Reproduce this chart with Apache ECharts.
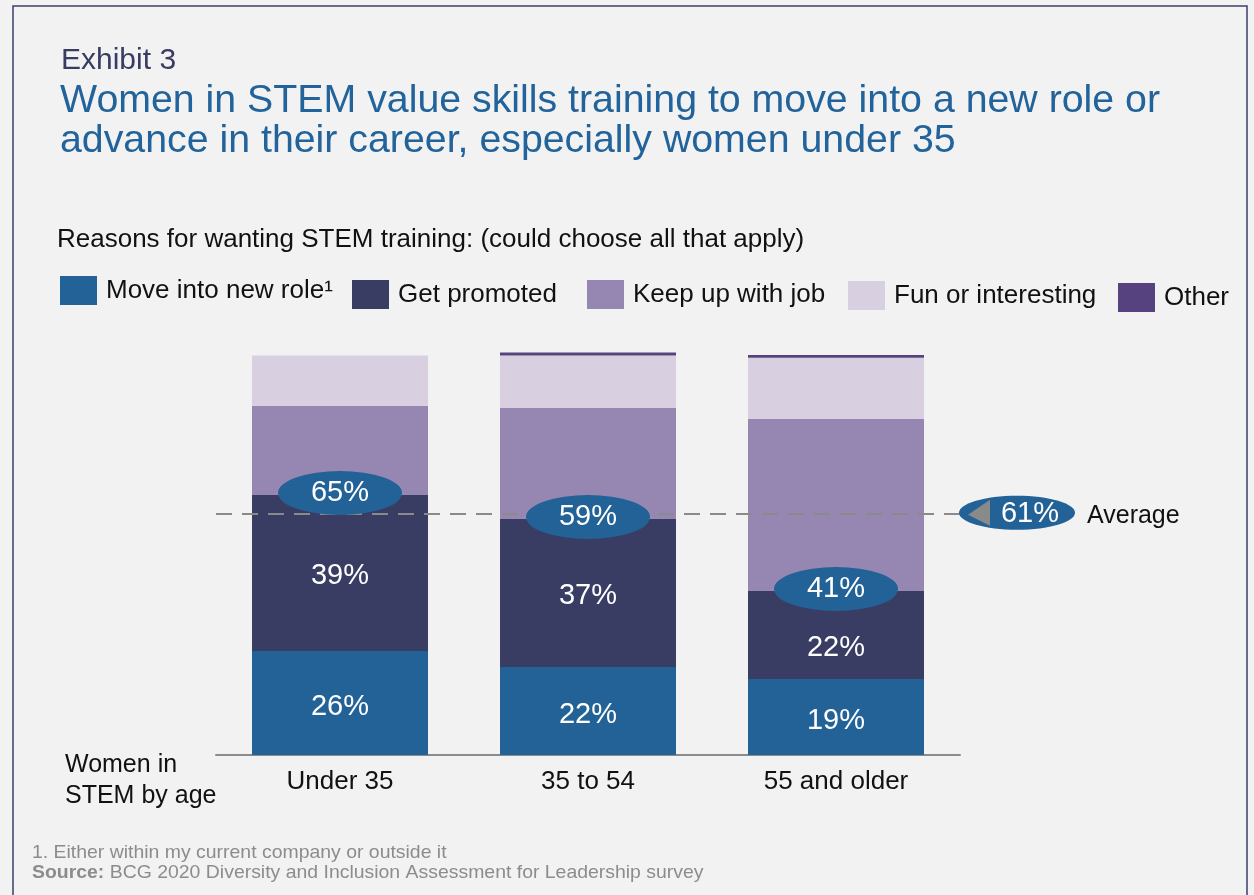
<!DOCTYPE html>
<html>
<head>
<meta charset="utf-8">
<title>Exhibit 3</title>
<script src="https://cdn.jsdelivr.net/npm/echarts@6/dist/echarts.min.js"></script>
<style>
  html, body { margin: 0; padding: 0; background: #f2f2f2; }
  #main { width: 1254px; height: 895px; }
</style>
</head>
<body>
<div id="main"></div>
<script>
// values (percent of women in STEM)
const ageGroups = ['Under 35', '35 to 54', '55 and older']
const moveIntoNewRole = [26, 22, 19]
const getPromoted = [39, 37, 22]
const keepUpWithJob = [22.3, 27.8, 43]
const funOrInteresting = [12.6, 13.1, 15.3]
const other = [0, 0.7, 0.7]
const combinedTotals = [65, 59, 41]
const averageLine = 60.3
const averageLabel = '61%'

const seriesNames = ['Move into new role\u00b9', 'Get promoted', 'Keep up with job', 'Fun or interesting', 'Other']
const colors = ['#236297', '#393d63', '#9687b2', '#d8cfe1', '#56427f']
const font = '"Liberation Sans", Arial, Helvetica, sans-serif'

const myChart = echarts.init(document.getElementById('main'))

// one legend per item so each sits where it does in the exhibit
const legendSpots = [[60, 276], [352, 280], [587, 280], [848, 281], [1118, 283]]
const legends = seriesNames.map((name, i) => ({
  data: [name],
  left: legendSpots[i][0],
  top: legendSpots[i][1],
  padding: 0,
  icon: 'rect',
  itemWidth: 37,
  itemHeight: 29,
  selectedMode: false,
  textStyle: { fontFamily: font, fontSize: 26, color: '#111', padding: [4, 0, 0, 4] }
}))

const insideLabel = (dy) => ({
  show: true,
  position: 'inside',
  offset: [0, dy],
  color: '#fff',
  fontFamily: font,
  fontSize: 29,
  formatter: '{c}%'
})

const options = {
  backgroundColor: '#f2f2f2',
  animation: false,
  color: colors,
  legend: legends,
  grid: { left: 216, width: 744, top: 351, height: 404 },
  xAxis: {
    type: 'category',
    data: ageGroups,
    axisTick: { show: false },
    axisLine: { lineStyle: { color: '#8c8c8c', width: 2 } },
    axisLabel: { margin: 14, fontFamily: font, fontSize: 26, color: '#111' }
  },
  yAxis: {
    type: 'value',
    min: 0,
    max: 101,
    show: false
  },
  series: [
    {
      name: seriesNames[0], type: 'bar', stack: 'total', barWidth: 176, z: 2,
      data: moveIntoNewRole, label: insideLabel(4)
    },
    {
      name: seriesNames[1], type: 'bar', stack: 'total', barWidth: 176, z: 2,
      data: getPromoted.map((v, i) => i === 2 ? { value: v, label: { offset: [0, 13] } } : v),
      label: insideLabel(3)
    },
    { name: seriesNames[2], type: 'bar', stack: 'total', barWidth: 176, z: 2, data: keepUpWithJob },
    { name: seriesNames[3], type: 'bar', stack: 'total', barWidth: 176, z: 2, data: funOrInteresting },
    { name: seriesNames[4], type: 'bar', stack: 'total', barWidth: 176, z: 2, data: other },
    {
      name: 'Combined',
      type: 'scatter',
      z: 4,
      symbol: 'circle',
      symbolSize: [124, 44],
      symbolOffset: [0, -2],
      itemStyle: { color: '#236297', opacity: 1 },
      data: combinedTotals.map((v, i) => [i, v]),
      label: {
        show: true,
        position: 'inside',
        color: '#fff',
        fontFamily: font,
        fontSize: 29,
        formatter: p => p.value[1] + '%'
      },
      markLine: {
        z: 3,
        silent: true,
        symbol: ['none', 'none'],
        label: { show: false },
        lineStyle: { color: '#8a8a8a', width: 2, type: [16, 10] },
        data: [{ yAxis: averageLine }]
      }
    }
  ]
}

myChart.setOption(options)

// average badge sits outside the plot, at the height of the average line
const avgY = myChart.convertToPixel({ yAxisIndex: 0 }, averageLine)
const textStyle = (text, x, y, size, color, extra) => Object.assign({
  text: text, x: x, y: y, fontFamily: font, fontSize: size, fill: color, verticalAlign: 'middle'
}, extra || {})

myChart.setOption({
  graphic: [
    {
      type: 'rect', silent: true,
      shape: { x: 13, y: 6, width: 1234, height: 900 },
      style: { fill: 'none', stroke: '#3b3f6b', lineWidth: 1.5 }
    },
    { type: 'text', style: textStyle('Exhibit 3', 61, 61, 30, '#383c62') },
    { type: 'text', style: textStyle('Women in STEM value skills training to move into a new role or', 60, 101, 39.3, '#21639a') },
    { type: 'text', style: textStyle('advance in their career, especially women under 35', 60, 141, 39.3, '#21639a') },
    { type: 'text', style: textStyle('Reasons for wanting STEM training: (could choose all that apply)', 57, 240, 26, '#111') },
    { type: 'text', style: textStyle('Women in', 65, 765, 25, '#111') },
    { type: 'text', style: textStyle('STEM by age', 65, 796, 25, '#111') },
    {
      type: 'ellipse', silent: true, z: 10,
      shape: { cx: 1017, cy: avgY - 1, rx: 58, ry: 17 },
      style: { fill: '#236297' }
    },
    {
      type: 'polygon', silent: true, z: 11,
      shape: { points: [[968, avgY + 1], [990, avgY - 14], [990, avgY + 12]] },
      style: { fill: '#8a8a8a' }
    },
    { type: 'text', z: 12, style: textStyle(averageLabel, 1030, avgY, 29, '#fff', { align: 'center' }) },
    { type: 'text', style: textStyle('Average', 1087, avgY + 2, 25, '#111') },
    // footnotes, slightly widened to span the same length as in the exhibit
    {
      type: 'text', x: 32, y: 853, scaleX: 1.05,
      style: textStyle('1. Either within my current company or outside it', 0, 0, 18.5, '#8c8c8c')
    },
    {
      type: 'text', x: 32, y: 873, scaleX: 1.05,
      style: textStyle('{b|Source:} BCG 2020 Diversity and Inclusion Assessment for Leadership survey', 0, 0, 18.5, '#8c8c8c', {
        rich: { b: { fontFamily: font, fontSize: 18.5, fontWeight: 'bold', fill: '#8c8c8c' } }
      })
    }
  ]
})
</script>
</body>
</html>
